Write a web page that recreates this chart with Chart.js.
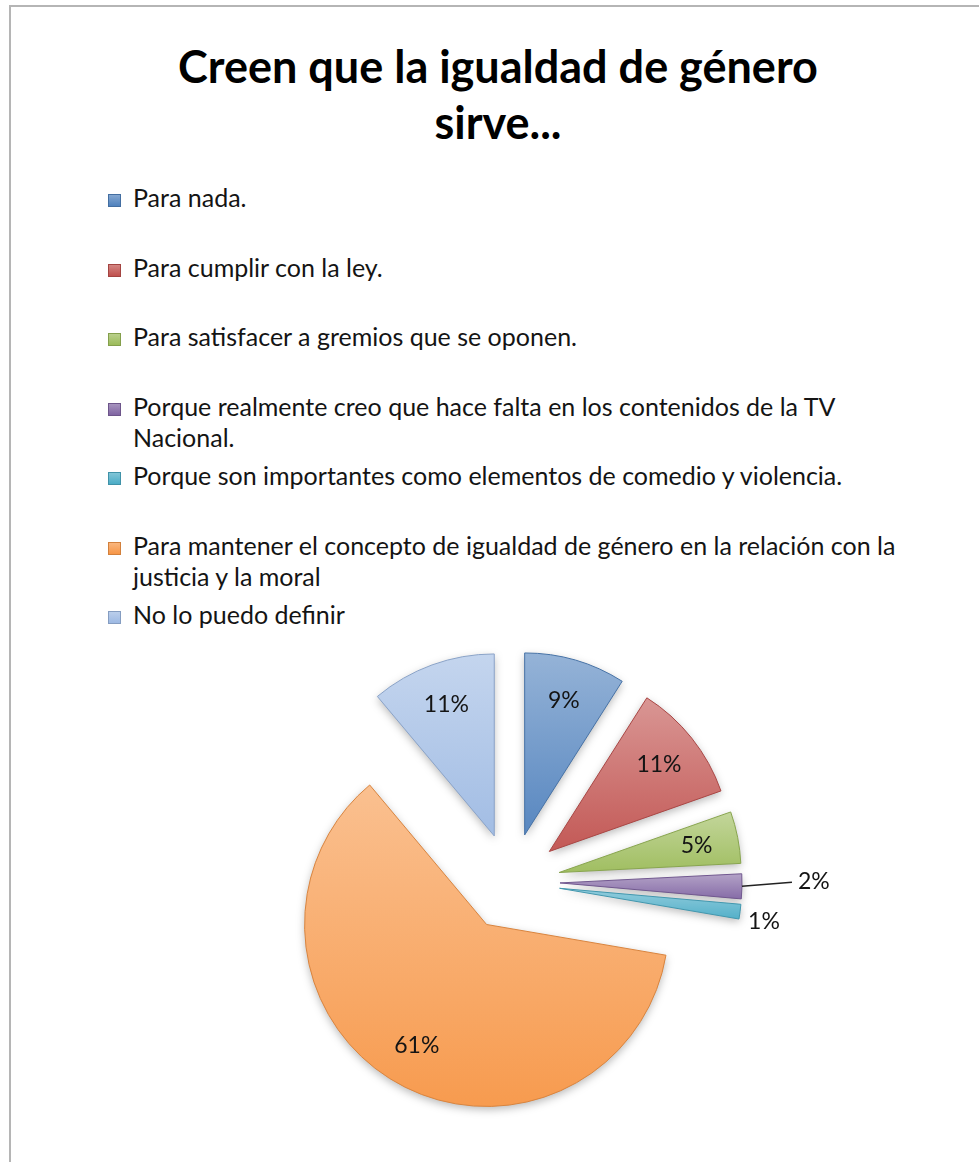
<!DOCTYPE html>
<html lang="es">
<head>
<meta charset="utf-8">
<title>Creen que la igualdad de género sirve...</title>
<script src="https://cdn.jsdelivr.net/npm/chart.js@4.4.1/dist/chart.umd.min.js"></script>
<style>
  html, body { margin: 0; padding: 0; background: #fff; }
  body { width: 979px; height: 1162px; position: relative; overflow: hidden; font-family: Lato, "Open Sans", sans-serif; color: #141414; }
  .frame { position: absolute; left: 9px; top: 5px; width: 1100px; height: 1300px; border: 2px solid #b5b5b5; }
  h1 { position: absolute; left: 0; top: 38px; width: 996px; margin: 0; text-align: center; font: bold 45px/56px Lato, sans-serif; color: #000; }
  #legend { position: absolute; left: 108px; top: 182px; margin: 0; padding: 0; list-style: none; }
  #legend li { position: relative; height: 69.5px; padding-left: 25px; font-size: 25px; line-height: 31px; white-space: nowrap; }
  #legend .box { position: absolute; left: 0; top: 12px; width: 13px; height: 13px; box-sizing: border-box; }
  .chart-box { position: absolute; left: 161px; top: 602px; width: 700px; height: 560px; }
</style>
</head>
<body>
<div class="frame"></div>
<h1>Creen que la igualdad de género<br>sirve...</h1>
<ul id="legend"></ul>
<div class="chart-box"><canvas id="pie"></canvas></div>

<script>
const categories = [
  'Para nada.',
  'Para cumplir con la ley.',
  'Para satisfacer a gremios que se oponen.',
  ['Porque realmente creo que hace falta en los contenidos de la TV', 'Nacional.'],
  'Porque son importantes como elementos de comedio y violencia.',
  ['Para mantener el concepto de igualdad de género en la relación con la', 'justicia y la moral'],
  'No lo puedo definir'
];
const shares = [9.0, 10.6, 4.6, 2.2, 1.3, 61.2, 11.1];

const sliceColors = ['#4F81BD', '#C0504D', '#9BBB59', '#8064A2', '#4BACC6', '#F79646', '#9DB9E3'];
// where each percent label goes: inside the slice, outside with a leader line, or just outside
const labelPlace = ['in', 'in', 'in', 'line', 'out', 'in', 'in'];
const explode = 49;

function mix(hex, other, t) {
  const a = parseInt(hex.slice(1), 16), b = parseInt(other.slice(1), 16);
  const ch = s => Math.round(((a >> s) & 255) * (1 - t) + ((b >> s) & 255) * t);
  return `rgb(${ch(16)},${ch(8)},${ch(0)})`;
}

// legend (html so long labels can wrap like the original)
const legendEl = document.getElementById('legend');
categories.forEach((cat, i) => {
  const li = document.createElement('li');
  const box = document.createElement('span');
  box.className = 'box';
  box.style.background = `linear-gradient(${mix(sliceColors[i], '#ffffff', 0.3)}, ${sliceColors[i]})`;
  box.style.border = `1px solid ${mix(sliceColors[i], '#000000', 0.15)}`;
  li.appendChild(box);
  (Array.isArray(cat) ? cat : [cat]).forEach((line, k) => {
    if (k) li.appendChild(document.createElement('br'));
    li.appendChild(document.createTextNode(line));
  });
  legendEl.appendChild(li);
});

function sliceOrigin(arc) {
  const mid = (arc.startAngle + arc.endAngle) / 2;
  return { x: arc.x + Math.cos(mid) * explode, y: arc.y + Math.sin(mid) * explode, mid };
}

// pulls every slice out along its middle angle, keeps the radius the same
const explodedPie = {
  id: 'explodedPie',
  beforeDatasetDraw(chart, args) {
    const ctx = chart.ctx;
    args.meta.data.forEach((arc, i) => {
      const o = sliceOrigin(arc);
      const r = arc.outerRadius;
      let top = o.y, bottom = o.y;
      for (let k = 0; k <= 24; k++) {
        const a = arc.startAngle + (arc.endAngle - arc.startAngle) * k / 24;
        const yy = o.y + Math.sin(a) * r;
        top = Math.min(top, yy);
        bottom = Math.max(bottom, yy);
      }
      const col = sliceColors[i];
      const grad = ctx.createLinearGradient(0, top, 0, bottom);
      grad.addColorStop(0, mix(col, '#ffffff', 0.4));
      grad.addColorStop(1, mix(col, '#ffffff', 0.05));

      ctx.save();
      ctx.beginPath();
      ctx.moveTo(o.x, o.y);
      ctx.arc(o.x, o.y, r, arc.startAngle, arc.endAngle);
      ctx.closePath();
      ctx.shadowColor = 'rgba(0,0,0,0.28)';
      ctx.shadowBlur = 8;
      ctx.shadowOffsetY = 3;
      ctx.fillStyle = grad;
      ctx.fill();
      ctx.shadowColor = 'transparent';
      ctx.lineWidth = 1;
      ctx.strokeStyle = mix(col, '#000000', 0.12);
      ctx.stroke();
      ctx.restore();
    });
    return false;
  },
  afterDatasetsDraw(chart) {
    const ctx = chart.ctx;
    const meta = chart.getDatasetMeta(0);
    const total = shares.reduce((s, v) => s + v, 0);
    ctx.save();
    ctx.font = '23px Lato, "Open Sans", sans-serif';
    ctx.fillStyle = '#141414';
    ctx.textBaseline = 'middle';
    meta.data.forEach((arc, i) => {
      const o = sliceOrigin(arc);
      const r = arc.outerRadius;
      const txt = Math.round(shares[i] / total * 100) + '%';
      const cos = Math.cos(o.mid), sin = Math.sin(o.mid);
      if (labelPlace[i] === 'in') {
        ctx.textAlign = 'center';
        ctx.fillText(txt, o.x + cos * r * 0.77, o.y + sin * r * 0.77);
      } else {
        const ex = o.x + cos * r, ey = o.y + sin * r;
        ctx.textAlign = 'left';
        if (labelPlace[i] === 'line') {
          ctx.beginPath();
          ctx.moveTo(ex, ey);
          ctx.lineTo(ex + 50, ey - 4);
          ctx.strokeStyle = '#222';
          ctx.lineWidth = 1.5;
          ctx.stroke();
          ctx.fillText(txt, ex + 56, ey - 5);
        } else {
          ctx.fillText(txt, ex + 8, ey + 10);
        }
      }
    });
    ctx.restore();
  }
};

new Chart(document.getElementById('pie'), {
  type: 'pie',
  data: {
    labels: categories,
    datasets: [{
      data: shares,
      backgroundColor: sliceColors,
      borderWidth: 0
    }]
  },
  options: {
    responsive: true,
    maintainAspectRatio: false,
    animation: false,
    events: [],
    radius: 182,
    plugins: {
      legend: { display: false },
      tooltip: { enabled: false }
    }
  },
  plugins: [explodedPie]
});
</script>
</body>
</html>
